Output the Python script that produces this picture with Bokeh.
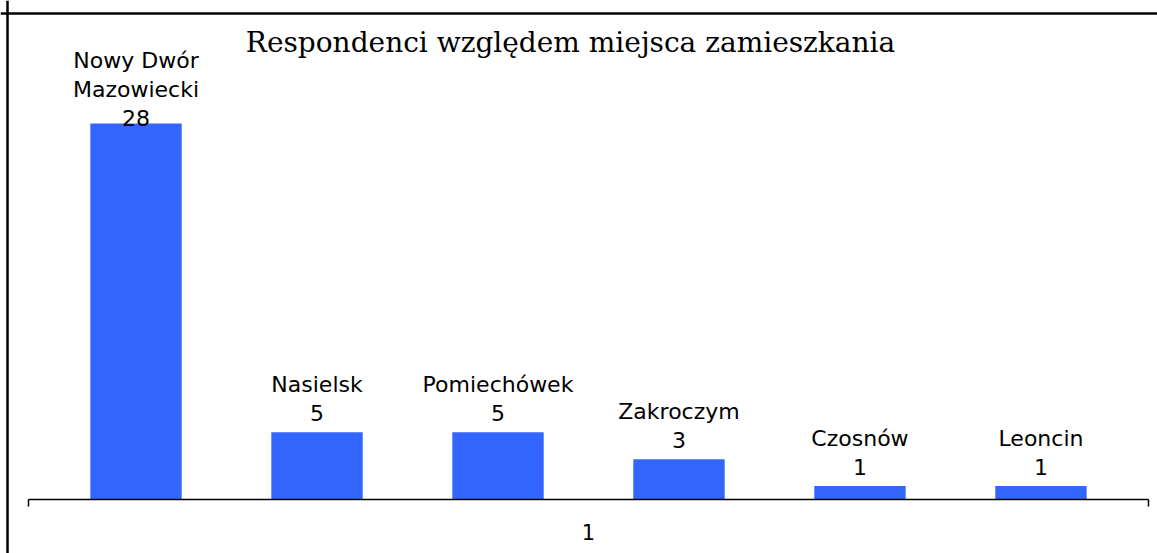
import textwrap
from bokeh.plotting import figure
from bokeh.models import (ColumnDataSource, LinearAxis, FixedTicker, Span, Label,
                          Range1d)
from bokeh.core.properties import value
from bokeh.embed import file_html
from bokeh.resources import INLINE

# ---- data ----
title_text = "Respondenci względem miejsca zamieszkania"
categories = ["Nowy Dwór Mazowiecki", "Nasielsk", "Pomiechówek", "Zakroczym", "Czosnów", "Leoncin"]
values = [28, 5, 5, 3, 1, 1]
group_label = "1"

# ---- layout (page pixels) ----
W, H = 1157, 553
PAGE_L, PAGE_T = 0, 0
AX_L, AX_R = 28, 1148          # axis extent in page px
BASE_Y = 499                    # baseline in page px
PX_PER_UNIT = 13.43             # vertical px per value unit
SPAN_X = AX_R - AX_L

def dx(px):   # page px -> data x
    return (px - AX_L) / SPAN_X

def dy(py):   # page py -> data y
    return (BASE_Y - py) / PX_PER_UNIT

n = len(categories)
step = 0.1616
centers = [0.5 + (i - (n - 1) / 2) * step for i in range(n)]
bar_w = step * 0.505

labels = [textwrap.fill(c, 12) + "\n" + str(v) for c, v in zip(categories, values)]
label_offsets = [8] + [-6] * (n - 1)   # first label clamped at chart top (as in the original)

src = ColumnDataSource(dict(x=centers, top=values, label=labels, yoff=label_offsets))

p = figure(width=W, height=H, output_backend="svg", toolbar_location=None,
           x_range=Range1d(dx(PAGE_L), dx(PAGE_L + W)),
           y_range=Range1d(dy(PAGE_T + H), dy(PAGE_T)),
           x_axis_location=None, y_axis_location=None,
           min_border=0, min_border_left=0, min_border_right=0,
           min_border_top=0, min_border_bottom=0)
p.outline_line_color = None
p.xgrid.visible = False
p.ygrid.visible = False
p.background_fill_color = "white"
p.border_fill_color = "white"

p.vbar(x="x", top="top", bottom=0, width=bar_w, source=src,
       fill_color="#3366FF", line_color=None)

p.text(x="x", y="top", text="label", source=src, y_offset="yoff",
       text_align="center", text_baseline="bottom",
       text_font=value("DejaVu Sans"), text_font_size="22px",
       text_line_height=1.17, text_color="black")

# axis with ticks at category boundaries
ax = LinearAxis(fixed_location=0, ticker=FixedTicker(ticks=[0, 1]), bounds=(0, 1))
ax.major_label_overrides = {0: "", 1: ""}
ax.major_tick_in = 0
ax.major_tick_out = 7
ax.major_tick_line_color = "black"
ax.major_tick_line_width = 1.5
ax.axis_line_color = "black"
ax.axis_line_width = 1.5
ax.minor_tick_line_color = None
p.add_layout(ax, "below")

# category label axis
ax2 = LinearAxis(fixed_location=0, ticker=FixedTicker(ticks=[0.5]))
ax2.major_label_overrides = {0.5: group_label}
ax2.axis_line_color = None
ax2.major_tick_line_color = None
ax2.minor_tick_line_color = None
ax2.major_tick_in = 0
ax2.major_tick_out = 0
ax2.major_label_standoff = 24
ax2.major_label_text_font = "DejaVu Sans"
ax2.major_label_text_font_size = "21px"
ax2.major_label_text_color = "black"
p.add_layout(ax2, "below")

# chart border (left & top visible in the original crop)
p.add_layout(Span(location=dx(7), dimension="height", line_color="black", line_width=2.5))
p.add_layout(Span(location=dy(13), dimension="width", line_color="black", line_width=2.5))

p.add_layout(Label(x=dx(570), y=dy(42), text=title_text, text_align="center",
                   text_baseline="alphabetic", text_font="DejaVu Serif",
                   text_font_size="28px", text_color="black"))

open("out.html", "w").write(file_html(p, INLINE))
